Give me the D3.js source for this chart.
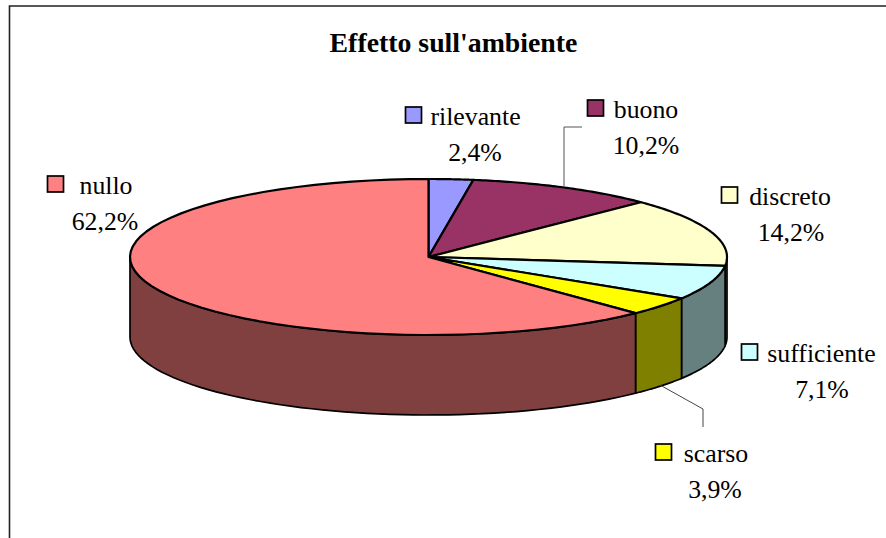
<!DOCTYPE html>
<html><head><meta charset="utf-8">
<script src="https://cdn.jsdelivr.net/npm/d3@7/dist/d3.min.js"></script>
<style>html,body{margin:0;padding:0;background:#fff}svg{display:block}
text{font-family:"Liberation Serif",serif;fill:#000}</style></head>
<body><svg id="c" width="886" height="538"></svg>
<script>
const title = "Effetto sull'ambiente";
const categories = ["rilevante","buono","discreto","sufficiente","scarso","nullo"];
const values = [2.4,10.2,14.2,7.1,3.9,62.2];
const valueLabels = ["2,4%","10,2%","14,2%","7,1%","3,9%","62,2%"];
const topColors = ["#9999FF","#993366","#FFFFCC","#CCFFFF","#FFFF00","#FF8080"];
const sideColors = ["#4d4d80","#4d1a33","#808066","#668080","#808000","#804040"];

const nameX = [475.5,646,790,821.5,716,106];
const valueX = [475,646,791,822,715,105];
const nameY = [125,118,205,362,462,194];
const swatchX = [405,587,721,741,655,47];

const cx=428.5,cy=257,rx=298.5,ry=78,depth=80;
const svg=d3.select("#c");
const line=d3.line();
svg.append("path").attr("d",line([[9.5,538],[9.5,6],[886,6]])).attr("fill","none").attr("stroke","#222").attr("stroke-width",1.6);
svg.append("text").attr("x",453.5).attr("y",52).attr("text-anchor","middle").attr("font-weight","bold").attr("font-size",27.8).text(title);

const pie=d3.pie().sort(null).value(d=>d)(values);
const px=a=>cx+rx*Math.sin(a), py=a=>cy-ry*Math.cos(a);
const samples=(a0,a1)=>d3.range(0,61).map(i=>a0+(a1-a0)*i/60);
// side walls: only the front half of the rim
pie.forEach((s,i)=>{
  const a0=Math.max(s.startAngle,Math.PI/2), a1=Math.min(s.endAngle,Math.PI*1.5);
  if(a1<=a0) return;
  const pts=samples(a0,a1);
  const poly=pts.map(a=>[px(a),py(a)]).concat(pts.slice().reverse().map(a=>[px(a),py(a)+depth]));
  svg.append("path").attr("d",line(poly)+"Z").attr("fill",sideColors[i]).attr("stroke","#000").attr("stroke-width",1.7).attr("stroke-linejoin","round");
});
// top faces
pie.forEach((s,i)=>{
  const poly=[[cx,cy]].concat(samples(s.startAngle,s.endAngle).map(a=>[px(a),py(a)]));
  svg.append("path").attr("d",line(poly)+"Z").attr("fill",topColors[i]).attr("stroke","#000").attr("stroke-width",2.2).attr("stroke-linejoin","round");
});
// leader lines
svg.append("path").attr("d",line([[564,187],[564,127],[582,127]])).attr("fill","none").attr("stroke","#555");
svg.append("path").attr("d",line([[660,385],[703,409],[703,427]])).attr("fill","none").attr("stroke","#444");
// labels
categories.forEach((c,i)=>{
  const g=svg.append("g");
  g.append("rect").attr("x",swatchX[i]+.5).attr("y",nameY[i]-18).attr("width",16).attr("height",16).attr("fill",topColors[i]).attr("stroke","#000").attr("stroke-width",1.7);
  const t=g.append("text").attr("text-anchor","middle").attr("font-size",25.8);
  t.append("tspan").attr("x",nameX[i]).attr("y",nameY[i]).text(c);
  t.append("tspan").attr("x",valueX[i]).attr("y",nameY[i]+36).text(valueLabels[i]);
});
</script></body></html>
